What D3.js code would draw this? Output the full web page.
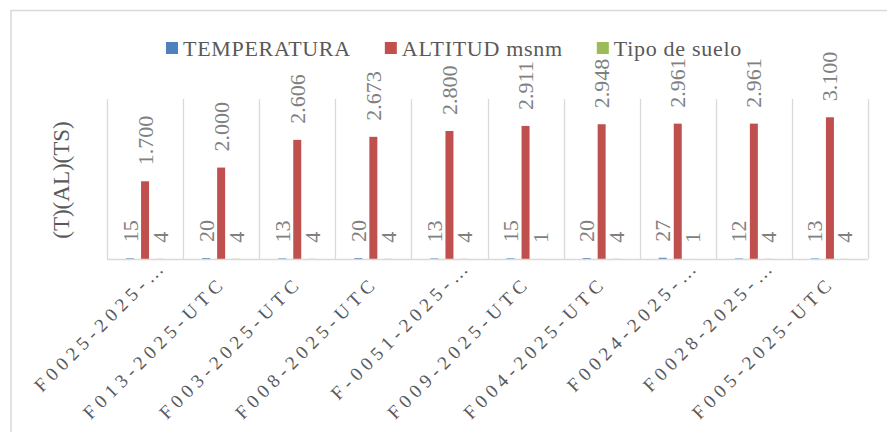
<!DOCTYPE html>
<html>
<head>
<meta charset="utf-8">
<script src="https://cdn.jsdelivr.net/npm/d3@7/dist/d3.min.js"></script>
<style>
  html, body { margin: 0; padding: 0; background: #fff; }
  svg { display: block; }
</style>
</head>
<body>
<svg id="chart" width="887" height="432" font-family="'Liberation Serif', 'DejaVu Serif', serif"></svg>
<script>
// Station codes along the category axis
const categories = [
  "F0025-2025-…", "F013-2025-UTC", "F003-2025-UTC", "F008-2025-UTC", "F-0051-2025-…",
  "F009-2025-UTC", "F004-2025-UTC", "F0024-2025-…", "F0028-2025-…", "F005-2025-UTC"
];
const seriesNames = ["TEMPERATURA", "ALTITUD msnm", "Tipo de suelo"];
const seriesColors = ["#4f81bd", "#c0504d", "#9bbb59"];
const temperatura = [15, 20, 13, 20, 13, 15, 20, 27, 12, 13];
const altitud = [1700, 2000, 2606, 2673, 2800, 2911, 2948, 2961, 2961, 3100];
const tipoSuelo = [4, 4, 4, 4, 4, 1, 4, 1, 4, 4];
const yDomain = [0, 3500];
const yTitle = "(T)(AL)(TS)";

const seriesValues = [temperatura, altitud, tipoSuelo];

const svg = d3.select("#chart");
const W = 887, H = 432;
const plot = { left: 107, right: 868, top: 99, bottom: 259 };

const gridColor = "#d9d9d9";
const textColor = "#595959";
const labelColor = "#808080";

// Spanish number format: "." as thousands separator
const esLocale = d3.formatLocale({ decimal: ",", thousands: ".", grouping: [3], currency: ["", "€"] });
const fmt = esLocale.format(",d");

// Outer chart frame (only top and left edges are inside the canvas)
svg.append("line").attr("x1", 11).attr("x2", W).attr("y1", 10.5).attr("y2", 10.5)
  .attr("stroke", gridColor).attr("stroke-width", 1.5);
svg.append("line").attr("x1", 11).attr("x2", 11).attr("y1", 10).attr("y2", H)
  .attr("stroke", gridColor).attr("stroke-width", 1.5);

const x = d3.scaleBand().domain(categories).range([plot.left, plot.right]).padding(0);
const xs = d3.scaleBand().domain(seriesNames).range([-19, 19]).paddingInner(0.467).paddingOuter(0);
const y = d3.scaleLinear().domain(yDomain).range([plot.bottom, plot.top]);

// Vertical gridlines at category boundaries
const bounds = categories.map(c => x(c)).concat([x(categories[categories.length - 1]) + x.bandwidth()]);
svg.append("g").selectAll("line").data(bounds).join("line")
  .attr("x1", d => Math.round(d) + 0.5).attr("x2", d => Math.round(d) + 0.5)
  .attr("y1", plot.top).attr("y2", plot.bottom)
  .attr("stroke", gridColor).attr("stroke-width", 1.3);

// Bars
const groups = svg.append("g").selectAll("g").data(categories).join("g")
  .attr("transform", c => `translate(${x(c) + x.bandwidth() / 2},0)`);

seriesNames.forEach((s, si) => {
  groups.append("rect")
    .attr("x", xs(s))
    .attr("width", xs.bandwidth())
    .attr("y", (c, i) => y(seriesValues[si][i]))
    .attr("height", (c, i) => plot.bottom - y(seriesValues[si][i]))
    .attr("fill", seriesColors[si]);
});

// Category axis baseline
svg.append("line").attr("x1", plot.left).attr("x2", plot.right)
  .attr("y1", plot.bottom + 0.5).attr("y2", plot.bottom + 0.5)
  .attr("stroke", gridColor).attr("stroke-width", 1.5);

// Value labels, rotated, above each bar
seriesNames.forEach((s, si) => {
  groups.append("text")
    .attr("transform", (c, i) => {
      const cx = xs(s) + xs.bandwidth() / 2;
      const ty = y(seriesValues[si][i]) - 16;
      return `translate(${cx},${ty}) rotate(-90)`;
    })
    .attr("dy", "0.34em")
    .attr("text-anchor", "start")
    .attr("font-size", 22)
    .attr("fill", labelColor)
    .text((c, i) => fmt(seriesValues[si][i]));
});

// Category labels at -45°; truncated names sit a little further along their baseline
svg.append("g").selectAll("text").data(categories).join("text")
  .attr("transform", c => {
    const shift = c.endsWith("…") ? 24 : 0;
    const px = x(c) + x.bandwidth() / 2 + 6;
    const py = plot.bottom + 25;
    return `translate(${px},${py}) rotate(-45) translate(${shift},0)`;
  })
  .attr("text-anchor", "end")
  .attr("font-size", 19)
  .attr("letter-spacing", 5)
  .attr("fill", textColor)
  .text(c => c);

// Axis title
svg.append("text")
  .attr("transform", `translate(61,180) rotate(-90)`)
  .attr("text-anchor", "middle")
  .attr("dy", "0.35em")
  .attr("font-size", 23)
  .attr("fill", textColor)
  .text(yTitle);

// Legend
const legend = svg.append("g").attr("transform", "translate(166,0)");
let lx = 0;
seriesNames.forEach((s, si) => {
  const g = legend.append("g").attr("transform", `translate(${lx},0)`);
  g.append("rect").attr("x", 0).attr("y", 42).attr("width", 12).attr("height", 12)
    .attr("fill", seriesColors[si]);
  const t = g.append("text").attr("x", 17).attr("y", 56)
    .attr("font-size", 22).attr("letter-spacing", 0.7).attr("fill", textColor).text(s);
  lx += 17 + t.node().getComputedTextLength() + 34;
});
</script>
</body>
</html>
